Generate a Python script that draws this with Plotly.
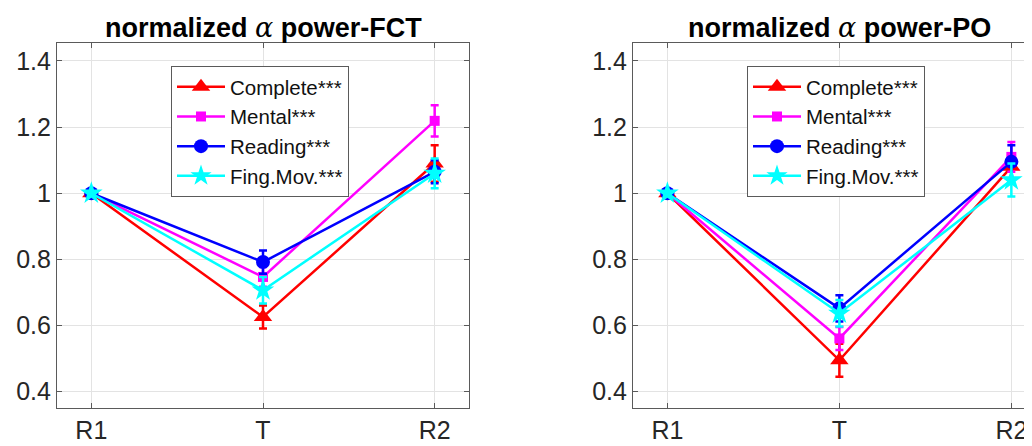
import plotly.graph_objects as go

categories = ["R1", "T", "R2"]
series_names = ["Complete***", "Mental***", "Reading***", "Fing.Mov.***"]

# FCT panel
fct_complete = [1.0, 0.626, 1.09]
fct_mental = [1.0, 0.747, 1.219]
fct_reading = [1.0, 0.792, 1.065]
fct_fing = [1.0, 0.707, 1.06]
fct_complete_err = [0.0, 0.035, 0.055]
fct_mental_err = [0.0, 0.03, 0.047]
fct_reading_err = [0.0, 0.035, 0.035]
fct_fing_err = [0.0, 0.04, 0.045]

# PO panel
po_complete = [1.0, 0.495, 1.08]
po_mental = [1.0, 0.561, 1.11]
po_reading = [1.0, 0.652, 1.095]
po_fing = [1.0, 0.637, 1.04]
po_complete_err = [0.0, 0.05, 0.04]
po_mental_err = [0.0, 0.035, 0.045]
po_reading_err = [0.0, 0.04, 0.05]
po_fing_err = [0.0, 0.04, 0.05]

titles = ["normalized", "power-FCT", "power-PO"]

colors = ["#FF0000", "#FF00FF", "#0000FF", "#00FFFF"]
symbols = ["triangle-up", "square", "circle", "star"]
msizes = [16, 10, 14, 17]

# page has an 8px body margin: work in reference pixels and shift
OFF = 8
W, H = 1032 - OFF, 446 - OFF


def px(x):
    return (x - OFF) / W


def py(y):
    return 1 - (y - OFF) / H


fig = go.Figure()

panels = [
    (["x", "y"], [fct_complete, fct_mental, fct_reading, fct_fing],
     [fct_complete_err, fct_mental_err, fct_reading_err, fct_fing_err], "legend"),
    (["x2", "y2"], [po_complete, po_mental, po_reading, po_fing],
     [po_complete_err, po_mental_err, po_reading_err, po_fing_err], "legend2"),
]

for (xa, ya), vals, errs, leg in panels:
    for i in range(4):
        fig.add_trace(go.Scatter(
            x=categories, y=vals[i], name=series_names[i],
            mode="lines+markers", xaxis=xa, yaxis=ya, legend=leg,
            line=dict(color=colors[i], width=2.5),
            marker=dict(symbol=symbols[i], size=msizes[i], color=colors[i],
                        line=dict(width=0)),
            error_y=dict(type="data", array=errs[i], visible=True,
                         color=colors[i], thickness=2.5, width=4),
        ))

font_main = "Liberation Sans, Arial, sans-serif"
ydom = [py(408), py(43)]

axis_common = dict(
    showline=True, linecolor="#5a5a5a", linewidth=1.2,
    ticks="inside", ticklen=5, tickcolor="#5a5a5a", tickwidth=1,
    showgrid=True, gridcolor="#e3e3e3", gridwidth=1,
    zeroline=False,
    tickfont=dict(family=font_main, size=25, color="#262626"),
    automargin=False,
)
ytick = dict(range=[0.3507, 1.4544], tickvals=[0.4, 0.6, 0.8, 1.0, 1.2, 1.4],
             ticktext=["0.4", "0.6", "0.8", "1", "1.2", "1.4"])

legend_common = dict(
    xanchor="left", yanchor="top",
    bgcolor="white", bordercolor="#5a5a5a", borderwidth=1,
    font=dict(family=font_main, size=20.5, color="#111"),
    itemwidth=48, tracegroupgap=0,
)

fig.update_layout(
    width=W, height=H,
    margin=dict(l=0, r=0, t=0, b=0),
    paper_bgcolor="white", plot_bgcolor="white",
    showlegend=True,
    xaxis=dict(domain=[px(57), px(469)], type="category", range=[-0.2, 2.2],
               mirror="all", anchor="y", **axis_common),
    yaxis=dict(domain=ydom, mirror="all", anchor="x", **ytick, **axis_common),
    xaxis2=dict(domain=[px(633), 1.0], type="category", range=[-0.2, 2.12],
                mirror="all", anchor="y2", **axis_common),
    yaxis2=dict(domain=ydom, mirror=False, anchor="x2", **ytick, **axis_common),
    legend=dict(x=px(171), y=py(66), **legend_common),
    legend2=dict(x=px(747), y=py(66), **legend_common),
)

alpha = "<span style=\"font-family:'DejaVu Serif';font-weight:normal\"><i>α</i></span>"
for cx, suffix in [((57 + 469) / 2, titles[1]), ((633 + 1045) / 2, titles[2])]:
    fig.add_annotation(
        x=px(cx), y=py(27), xref="paper", yref="paper",
        xanchor="center", yanchor="middle", showarrow=False,
        text=f"<b>{titles[0]} </b>{alpha}<b> {suffix}</b>",
        font=dict(family=font_main, size=27, color="black"),
    )

fig.write_html("out.html")
